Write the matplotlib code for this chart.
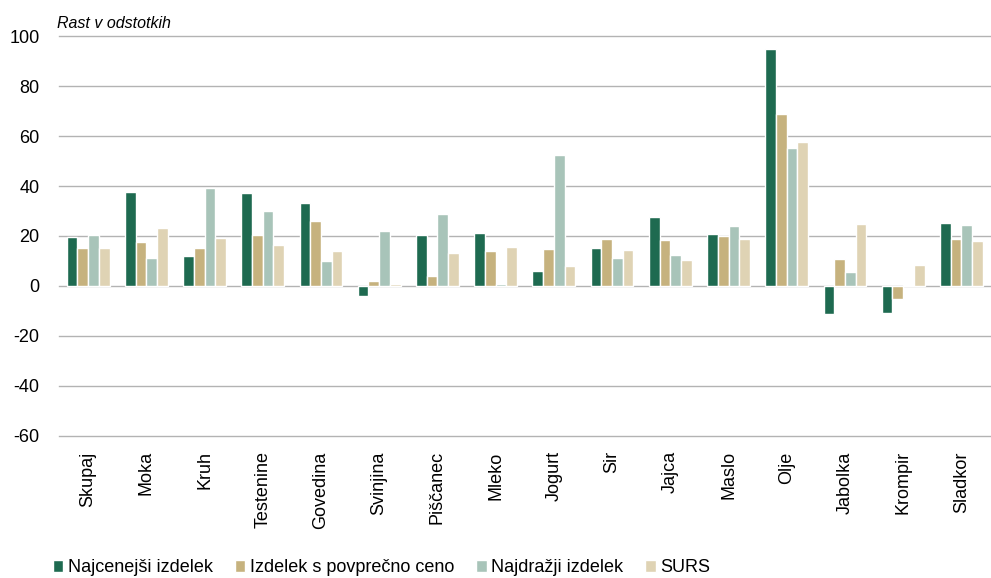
import matplotlib
matplotlib.use("Agg")
import matplotlib.pyplot as plt
import numpy as np

plt.rcParams['font.family'] = ['Liberation Sans', 'DejaVu Sans']
fs = 13
fs_title = 11.5

categories = ["Skupaj", "Moka", "Kruh", "Testenine", "Govedina", "Svinjina", "Piščanec",
              "Mleko", "Jogurt", "Sir", "Jajca", "Maslo", "Olje", "Jabolka", "Krompir", "Sladkor"]
najcenejsi = [19.5, 37.5, 12.0, 37.1, 33.2, -4.0, 20.5, 21.1, 6.1, 15.3, 27.5, 20.9, 94.7, -11.2, -10.7, 25.1]
povprecna = [15.1, 17.6, 15.1, 20.3, 26.0, 1.9, 4.1, 13.9, 14.7, 18.9, 18.5, 19.9, 68.9, 10.8, -5.3, 18.9]
najdrazji = [20.3, 11.3, 39.2, 30.0, 9.9, 22.1, 28.8, 0.8, 52.3, 11.3, 12.3, 23.9, 55.3, 5.6, 0.4, 24.5]
surs = [15.1, 23.3, 19.3, 16.4, 14.0, 0.7, 13.2, 15.5, 8.0, 14.3, 10.4, 18.9, 57.7, 24.7, 8.5, 18.1]

series_names = ["Najcenejši izdelek", "Izdelek s povprečno ceno", "Najdražji izdelek", "SURS"]
series = [najcenejsi, povprecna, najdrazji, surs]
colors = ["#1e6a50", "#c6b27e", "#a8c4b9", "#dfd3b4"]
yticks = [-60, -40, -20, 0, 20, 40, 60, 80, 100]

fig = plt.figure(figsize=(9.91, 5.78), dpi=100)
ax = fig.add_axes([0.0595, 0.2457, 0.94, 0.692])

x = np.arange(len(categories))
w = 0.184
for i, (vals, col, name) in enumerate(zip(series, colors, series_names)):
    ax.bar(x + (i - 1.5) * w, vals, width=w, color=col, edgecolor="white",
           linewidth=1.0, label=name, zorder=3)

ax.set_xlim(-0.5, len(categories) - 0.5)
ax.set_ylim(-60, 100)
ax.set_yticks(yticks)
ax.set_yticklabels([str(t) for t in yticks], fontsize=fs)
ax.set_xticks(x)
ax.set_xticklabels(categories, rotation=90, fontsize=fs)
ax.tick_params(axis='y', length=0, pad=14)
ax.tick_params(axis='x', length=0, pad=11)
ax.grid(axis='y', color="#b3b3b3", linewidth=1.0, zorder=1)
for gl in ax.get_ygridlines():
    gl.set_clip_on(False)
ax.set_axisbelow(True)
for s in ax.spines.values():
    s.set_visible(False)

fig.text(0.058, 0.960, "Rast v odstotkih", fontsize=fs_title, style='italic', ha='left', va='center')

leg = fig.legend(loc='lower left', bbox_to_anchor=(0.053, 0.003), ncol=4, frameon=False,
                 fontsize=fs, handlelength=0.6, handleheight=0.6, handletextpad=0.25,
                 columnspacing=1.2, borderpad=0, borderaxespad=0)

fig.savefig("out.png", dpi=100)
